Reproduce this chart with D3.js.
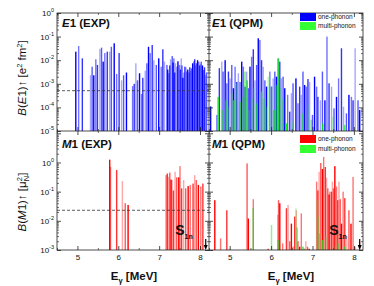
<!DOCTYPE html>
<html>
<head>
<meta charset="utf-8">
<script src="https://cdn.jsdelivr.net/npm/d3@7"></script>
<style>
body { margin: 0; background: #fff; }
text { font-family: "Liberation Sans", Arial, sans-serif; fill: #111; }
</style>
</head>
<body>
<div id="chart"></div>
<script>
// [E (MeV), B]
var e1Exp = [[4.96,0.023],[5.03,0.04],[5.12,0.012],[5.32,0.0023],[5.36,0.0053],[5.40,0.0023],[5.45,0.011],[5.49,0.0063],
	[5.55,0.03],[5.59,0.034],[5.63,0.0087],[5.67,0.02],[5.73,0.023],[5.79,0.023],[5.83,0.037],[5.90,0.052],[5.96,0.0026],
	[6.02,0.02],[6.08,0.0014],[6.13,0.0023],[6.20,0.003],[6.35,0.0008],[6.39,0.001],[6.43,0.0074],[6.47,0.0014],[6.52,0.0028],
	[6.57,0.00037],[6.60,0.0018],[6.66,0.0036],[6.70,0.0074],[6.74,0.037],[6.78,0.02],[6.83,0.044],[6.87,0.01],[6.93,0.0063],
	[6.99,0.012],[7.05,0.0053],[7.09,0.029],[7.13,0.0087],[7.19,0.0063],[7.21,0.004],[7.24,0.0028],[7.26,0.006],[7.28,0.011],
	[7.32,0.015],[7.34,0.008],[7.36,0.012],[7.38,0.003],[7.40,0.0074],[7.44,0.0053],[7.46,0.009],[7.50,0.0063],[7.52,0.004],
	[7.54,0.012],[7.56,0.006],[7.58,0.0018],[7.61,0.003],[7.63,0.0053],[7.66,0.005],[7.68,0.0033],[7.70,0.004],[7.73,0.003],
	[7.75,0.005],[7.77,0.0035],[7.79,0.0045],[7.82,0.0074],[7.85,0.009],[7.87,0.011],[7.89,0.006],[7.91,0.0074],[7.94,0.01],
	[7.97,0.0087],[7.99,0.006],[8.01,0.007],[8.03,0.0087],[8.06,0.006],[8.09,0.0038],[8.11,0.005],[8.13,0.0023],[8.16,0.003]]

var e1QpmOne = [[4.54,1.1e-4],[4.69,4.8e-5],[4.75,0.0046],[4.81,0.0087],[4.84,0.0033],[4.89,0.01],[4.93,0.00105],[4.97,0.0033],
	[5.01,0.0017],[5.05,0.0063],[5.09,0.00065],[5.13,0.0053],[5.17,0.0012],[5.21,0.0028],[5.25,0.0012],[5.29,0.0087],
	[5.33,0.0053],[5.37,0.00076],[5.41,0.0033],[5.45,0.00065],[5.49,0.0053],[5.53,0.014],[5.57,0.029],[5.61,0.0014],
	[5.65,0.0063],[5.69,0.085],[5.73,0.072],[5.77,0.01],[5.81,0.0053],[5.85,0.0014],[5.89,0.00076],[5.97,0.0033],[6.01,0.00076],
	[6.05,0.0017],[6.09,0.0033],[6.13,0.002],[6.17,0.012],[6.21,0.0087],[6.25,0.0017],[6.29,0.002],[6.33,0.00065],[6.40,0.00034],
	[6.45,0.000066],[6.49,0.0004],[6.53,0.00105],[6.60,0.0017],[6.65,0.00015],[6.69,0.00076],[6.73,0.00034],[6.77,0.0033],
	[6.81,0.00089],[6.85,0.00076],[6.89,0.0016],[6.93,0.0012],[7.00,0.000048],[7.05,0.002],[7.10,0.00076],[7.13,0.00028],
	[7.19,0.0002],[7.24,0.0033],[7.30,0.0002],[7.35,0.1],[7.40,0.00105],[7.46,0.00076],[7.52,0.000091],[7.58,0.00028],
	[7.63,0.0017],[7.70,0.032],[7.75,0.000107],[7.82,0.000056],[7.88,0.00034],[7.94,0.00028],[7.98,0.0002],[8.03,0.032],
	[8.10,0.0002],[8.14,0.000078]]

var e1QpmMulti = [[4.72,0.00028],[4.82,0.000078],[4.91,0.0002],[4.97,0.000107],[5.05,0.0004],[5.10,0.0002],[5.18,0.00105],
	[5.25,0.00017],[5.31,0.00028],[5.37,0.0033],[5.42,0.0014],[5.47,0.000078],[5.53,0.00024],[5.58,0.00065],[5.65,0.00015],
	[5.77,0.00047],[5.83,0.00024],[5.87,0.000107],[5.93,0.002],[6.01,0.00076],[6.07,0.000078],[6.13,0.00089],[6.18,0.012],
	[6.23,0.00065],[6.29,0.00024],[6.37,0.000021],[6.53,0.000025],[6.77,0.000056],[6.89,0.000126],[6.97,0.00003],
	[7.25,0.000021],[7.50,0.00004],[7.78,0.000018]]

var m1Exp = [[5.79,1.25],[5.81,0.7],[5.96,0.55],[6.10,0.23],[6.17,0.04],[6.24,0.035],[7.17,0.37],[7.20,0.42],[7.23,0.32],
	[7.26,0.45],[7.29,0.26],[7.31,0.25],[7.35,0.11],[7.39,0.48],[7.43,0.31],[7.48,0.31],[7.51,0.75],[7.55,0.13],[7.60,0.25],
	[7.65,0.13],[7.71,0.155],[7.76,0.17],[7.83,0.19],[7.87,0.37],[7.91,0.25],[7.96,0.17],[8.02,0.15],[8.07,0.19]]

var m1QpmOne = [[4.64,0.051],[4.78,0.0025],[4.93,0.023],[4.99,0.0011],[5.42,0.93],[5.45,0.012],[5.57,0.055],[5.93,0.0011],
	[6.16,0.016],[6.18,0.051],[6.21,0.04],[6.28,0.0017],[6.37,0.027],[6.41,0.035],[6.45,0.002],[6.49,0.008],[6.53,0.0013],
	[6.57,0.014],[6.61,0.023],[6.65,0.002],[6.69,0.0013],[6.73,0.018],[6.80,0.0011],[6.84,0.002],[6.88,0.0013],[6.92,0.0011],
	[7.10,0.22],[7.13,0.11],[7.16,0.48],[7.20,0.96],[7.24,0.6],[7.27,1.55],[7.31,0.7],[7.34,0.3],[7.37,0.13],[7.40,0.08],
	[7.42,0.1],[7.46,0.1],[7.48,0.22],[7.51,0.13],[7.54,0.75],[7.58,0.15],[7.61,0.051],[7.64,0.22],[7.67,0.055],[7.70,0.008],
	[7.74,0.1],[7.78,0.06],[7.83,0.003],[7.88,0.023],[7.93,0.008],[7.98,0.32],[8.02,0.0013],[8.14,0.002]]

var m1QpmMulti = [[5.57,0.027],[6.01,0.0072],[6.17,0.0022],[6.60,0.027],[6.63,0.006],[6.77,0.0013],[6.81,0.0011],[7.12,0.051],
	[7.14,0.014],[7.17,0.0037],[7.25,0.0022],[7.32,0.0029],[7.51,0.0013],[7.56,0.0029],[7.62,0.0017],[7.78,0.0013]]

var xTicks = [5, 6, 7, 8]
var xMinor = [4.5, 5.5, 6.5, 7.5]
var e1Decades = [1e-5, 1e-4, 1e-3, 1e-2, 1e-1, 1]
var m1Decades = [1e-3, 1e-2, 1e-1, 1, 10]
var e1Limit = 5.1e-4
var m1Limit = 0.023
var sn = 8.14

var shades = [1, 0.55, 0.8, 0.35, 0.65]

var svg = d3.select('#chart').append('svg').attr('width', 374).attr('height', 286)

var xL = d3.scaleLinear().domain([4.5, 8.22]).range([57, 209])
var xR = d3.scaleLinear().domain([4.5, 8.22]).range([209, 363])
var yTop = d3.scaleLog().domain([1e-5, 1]).range([131, 13])
var yBot = d3.scaleLog().domain([1e-3, 12]).range([250, 131])

function minors(decades, y) {
	var out = []
	decades.forEach(function(d) {
		for (var k = 2; k < 10; k++) {
			var v = d * k
			if (v >= y.domain()[0] && v <= y.domain()[1]) out.push(v)
		}
	})
	return out
}

function drawBars(data, x, y, color, op) {
	svg.append('g').selectAll('rect').data(data).enter()
		.append('rect')
		.attr('x', function(d){return x(d[0]) - 0.7})
		.attr('width', 1.4)
		.attr('y', function(d){return y(d[1])})
		.attr('height', function(d){return y.range()[0] - y(d[1])})
		.attr('fill', color)
		.attr('fill-opacity', function(d, i){return op * shades[i % shades.length]})
}

drawBars(e1Exp, xL, yTop, '#0000ff', 1)
drawBars(e1QpmOne, xR, yTop, '#0000ff', 1)
drawBars(e1QpmMulti, xR, yTop, '#00ee00', 0.9)
drawBars(m1Exp, xL, yBot, '#ff0000', 1)
drawBars(m1QpmOne, xR, yBot, '#ff0000', 1)
drawBars(m1QpmMulti, xR, yBot, '#22dd22', 0.9)

// reference lines
svg.append('line').attr('x1', 57).attr('x2', 209).attr('y1', yTop(e1Limit)).attr('y2', yTop(e1Limit))
	.attr('stroke', '#333').attr('stroke-width', 0.8).attr('stroke-dasharray', '3,2')
svg.append('line').attr('x1', 57).attr('x2', 209).attr('y1', yBot(m1Limit)).attr('y2', yBot(m1Limit))
	.attr('stroke', '#333').attr('stroke-width', 0.8).attr('stroke-dasharray', '3,2')

// axes
function yAxis(y, decades, xpos, gen, inner, labels) {
	var g = svg.append('g').attr('transform', 'translate(' + xpos + ',0)')
	g.call(gen(y).tickValues(minors(decades, y)).tickSizeInner(inner / 2).tickSizeOuter(0).tickFormat(''))
	var g2 = svg.append('g').attr('transform', 'translate(' + xpos + ',0)')
	g2.call(gen(y).tickValues(decades.filter(function(d){return d <= y.domain()[1]}))
		.tickSizeInner(inner).tickSizeOuter(0).tickPadding(3)
		.tickFormat(labels ? function(){return '10'} : ''))
	if (labels) {
		g2.selectAll('.tick text').attr('font-size', 8).attr('fill', '#222')
			.append('tspan').attr('dy', -4).attr('font-size', 5.5)
			.text(function(d){return Math.round(Math.log10(d))})
	}
	g.select('.domain').remove()
	g2.select('.domain').remove()
	g.selectAll('line').attr('stroke', '#333').attr('stroke-width', 0.7)
	g2.selectAll('line').attr('stroke', '#222').attr('stroke-width', 0.8)
}

yAxis(yTop, e1Decades, 57, d3.axisLeft, -4, true)
yAxis(yTop, e1Decades, 209, d3.axisLeft, 4, false)
yAxis(yTop, e1Decades, 209, d3.axisRight, 4, false)
yAxis(yTop, e1Decades, 363, d3.axisRight, -4, false)
yAxis(yBot, m1Decades, 57, d3.axisLeft, -4, true)
yAxis(yBot, m1Decades, 209, d3.axisLeft, 4, false)
yAxis(yBot, m1Decades, 209, d3.axisRight, 4, false)
yAxis(yBot, m1Decades, 363, d3.axisRight, -4, false)

svg.selectAll('.tick text').filter(function(d){return d === 10}).remove()

function xAxis(x, ypos, gen, inner, labels) {
	var g = svg.append('g').attr('transform', 'translate(0,' + ypos + ')')
	g.call(gen(x).tickValues(xMinor).tickSizeInner(inner / 2).tickSizeOuter(0).tickFormat(''))
	var g2 = svg.append('g').attr('transform', 'translate(0,' + ypos + ')')
	g2.call(gen(x).tickValues(xTicks).tickSizeInner(inner).tickSizeOuter(0).tickPadding(4)
		.tickFormat(labels ? d3.format('d') : ''))
	g2.selectAll('.tick text').attr('font-size', 8).attr('fill', '#222')
	g.select('.domain').remove()
	g2.select('.domain').remove()
	g.selectAll('line').attr('stroke', '#333').attr('stroke-width', 0.7)
	g2.selectAll('line').attr('stroke', '#222').attr('stroke-width', 0.8)
}

;[xL, xR].forEach(function(x) {
	xAxis(x, 250, d3.axisBottom, -4, true)
	xAxis(x, 131, d3.axisBottom, -4, false)
	xAxis(x, 131, d3.axisTop, -4, false)
	xAxis(x, 13, d3.axisTop, -4, false)
})

// frames
svg.append('rect').attr('x', 57).attr('y', 13).attr('width', 306).attr('height', 237)
	.attr('fill', 'none').attr('stroke', '#222').attr('stroke-width', 0.8)
svg.append('line').attr('x1', 57).attr('x2', 363).attr('y1', 131).attr('y2', 131).attr('stroke', '#222').attr('stroke-width', 0.8)
svg.append('line').attr('x1', 209).attr('x2', 209).attr('y1', 13).attr('y2', 250).attr('stroke', '#222').attr('stroke-width', 0.8)

// panel titles
function title(x, y, letter, rest) {
	var t = svg.append('text').attr('x', x).attr('y', y).attr('font-size', 11.5).attr('font-weight', 'bold')
	t.append('tspan').attr('font-style', 'italic').text(letter)
	t.append('tspan').text(rest)
}
title(62, 27, 'E', '1 (EXP)')
title(212, 27, 'E', '1 (QPM)')
title(62, 148, 'M', '1 (EXP)')
title(212, 148, 'M', '1 (QPM)')

// legends
function legend(y0, gap, c1, c2) {
	svg.append('rect').attr('x', 300).attr('y', y0).attr('width', 16).attr('height', 8).attr('fill', c1)
	svg.append('rect').attr('x', 300).attr('y', y0 + 8 + gap).attr('width', 16).attr('height', 8).attr('fill', c2)
	svg.append('text').attr('x', 318).attr('y', y0 + 6).attr('font-size', 6.5).text('one-phonon')
	svg.append('text').attr('x', 318).attr('y', y0 + 14 + gap).attr('font-size', 6.5).text('multi-phonon')
}
legend(13, 1, '#0000ff', '#33ff33')
legend(135, 2, '#ff0000', '#33ff33')

// y titles
var t1 = svg.append('text').attr('transform', 'translate(26,78) rotate(-90)').attr('text-anchor', 'middle').attr('font-size', 11.5)
t1.append('tspan').attr('font-style', 'italic').text('B')
t1.append('tspan').text('(')
t1.append('tspan').attr('font-style', 'italic').text('E')
t1.append('tspan').text('1)\u2191  [e')
t1.append('tspan').attr('dy', -4).attr('font-size', 7.5).text('2')
t1.append('tspan').attr('dy', 4).text(' fm')
t1.append('tspan').attr('dy', -4).attr('font-size', 7.5).text('2')
t1.append('tspan').attr('dy', 4).text(']')

var t2 = svg.append('text').attr('transform', 'translate(26,202) rotate(-90)').attr('text-anchor', 'middle').attr('font-size', 11.5)
t2.append('tspan').attr('font-style', 'italic').text('B')
t2.append('tspan').text('(')
t2.append('tspan').attr('font-style', 'italic').text('M')
t2.append('tspan').text('1)\u2191  [\u03bc')
t2.append('tspan').attr('dy', -4).attr('font-size', 7.5).text('2')
t2.append('tspan').attr('dy', 7).attr('dx', -4).attr('font-size', 7.5).text('N')
t2.append('tspan').attr('dy', -3).text(']')

// x titles
;[134, 291].forEach(function(cx) {
	var t = svg.append('text').attr('x', cx).attr('y', 280).attr('text-anchor', 'middle')
		.attr('font-size', 11.5).attr('font-weight', 'bold')
	t.append('tspan').text('E')
	t.append('tspan').attr('dy', 3).attr('font-size', 7.5).text('\u03b3')
	t.append('tspan').attr('dy', -3).text(' [MeV]')
})

// neutron separation energy
;[xL, xR].forEach(function(x) {
	var px = x(sn)
	var t = svg.append('text').attr('x', px - 13).attr('y', 235).attr('font-size', 14).attr('font-weight', 'bold')
		.attr('text-anchor', 'end')
	t.append('tspan').text('S')
	t.append('tspan').attr('dy', 4).attr('font-size', 7).text('1n')
	svg.append('line').attr('x1', px).attr('x2', px).attr('y1', 239).attr('y2', 246).attr('stroke', '#000').attr('stroke-width', 1.2)
	svg.append('path').attr('d', 'M' + (px - 2) + ',245 L' + (px + 2) + ',245 L' + px + ',250 Z').attr('fill', '#000')
})
</script>
</body>
</html>
